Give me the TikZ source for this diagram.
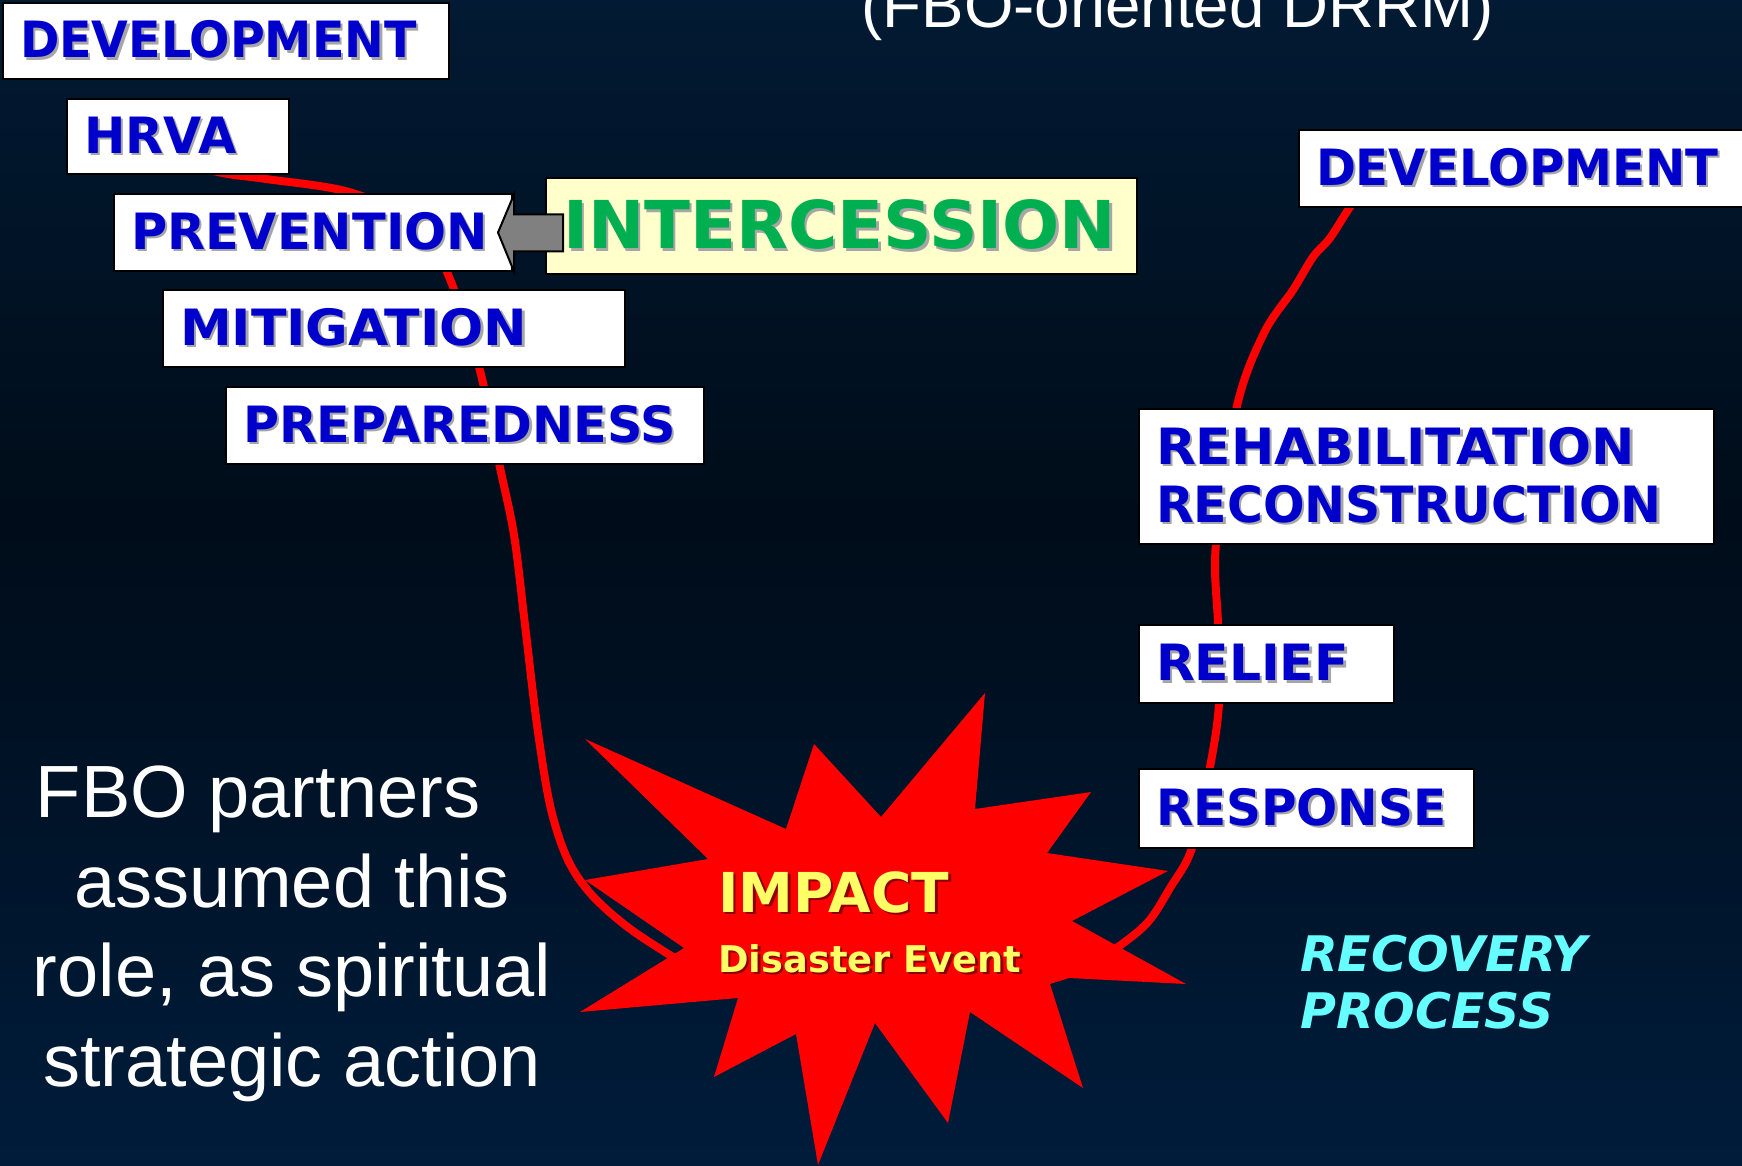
\documentclass[tikz,border=0pt]{standalone}
\usepackage{fontspec}
\setmainfont{Liberation Sans}
\newfontfamily\stagefont[FakeStretch=0.95]{DejaVu Sans}
\newfontfamily\calloutfont{DejaVu Sans}
\usepackage{xcolor}
\usepackage{graphicx}
\usepackage{tikz}
\usetikzlibrary{positioning}
\definecolor{SkyTop}{HTML}{021A33}
\definecolor{SkyMid}{HTML}{000C19}
\definecolor{SkyBottom}{HTML}{001C3B}
\definecolor{StageBlue}{HTML}{0000CC}
\definecolor{StageShadow}{HTML}{A6A6A6}
\definecolor{PrayerGreen}{HTML}{00B050}
\definecolor{PrayerFill}{HTML}{FFFFCC}
\definecolor{ArrowGray}{HTML}{808080}
\definecolor{BurstRed}{HTML}{FF0000}
\definecolor{BurstYellow}{HTML}{FFFF66}
\definecolor{BurstShadow}{HTML}{8C0000}
\definecolor{RecoveryCyan}{HTML}{66FFFF}
% text with a soft drop shadow, optionally widened
\newcommand{\Shadowed}[3][1]{%
  \leavevmode\scalebox{#1}[1]{\rlap{\kern2.5pt\raisebox{-2.5pt}{\textcolor{#2}{#3}}}#3}%
}

\begin{document}
\begin{tikzpicture}[
  x=1pt,y=-1pt,
  stagebox/.style={draw=black,line width=2pt,fill=white,anchor=north west,
                   inner xsep=17pt,inner ysep=0pt,minimum height=77pt,align=left,
                   text=StageBlue,font=\stagefont\bfseries\fontsize{50}{58}\selectfont},
  riskcurve/.style={draw=BurstRed,line width=8pt,line cap=round},
  blockarrow/.style={draw=black,line width=2pt,fill=ArrowGray,line join=miter},
]
  \useasboundingbox (0,0) rectangle (1742,1166);
  \shade[top color=SkyTop,bottom color=SkyMid] (0,0) rectangle (1742,520);
  \shade[top color=SkyMid,bottom color=SkyBottom] (0,519) rectangle (1742,1166);

  \node[anchor=base,text=white,font=\fontsize{63.6}{70}\selectfont] (title)
    at (1178,28) {(FBO-oriented DRRM)};

  % the cycle line runs behind the boxes and the burst
  \draw[riskcurve] plot[smooth,tension=0.55] coordinates {
    (190,166) (228,174) (266,179) (349,192) (415,222) (447,272) (479,367) (499,463)
    (514,535) (525,625) (537,725) (550,805) (567,858) (590,893) (625,925)
    (665,952) (720,985)};
  \draw[riskcurve] plot[smooth,tension=0.55] coordinates {
    (1080,972) (1118,947) (1148,922) (1170,888) (1192,848) (1210,767)
    (1219,703) (1218,625) (1216,543) (1237,406) (1264,333) (1293,290)
    (1313,257) (1330,238) (1350,207) (1370,180)};

  \node[stagebox,text width=412pt,minimum height=76pt] (devbefore) at (2,2)
    {\Shadowed{StageShadow}{DEVELOPMENT}};
  \node[stagebox,text width=188pt,minimum height=75pt] (hrva) at (66,98)
    {\Shadowed[1.04]{StageShadow}{HRVA}};
  \node[stagebox,text width=364pt] (prevention) at (113,193)
    {\Shadowed[1.04]{StageShadow}{PREVENTION}};
  \node[stagebox,text width=428pt] (mitigation) at (162,289)
    {\Shadowed[1.095]{StageShadow}{MITIGATION}};
  \node[stagebox,text width=444pt] (preparedness) at (225,386)
    {\Shadowed[1.035]{StageShadow}{PREPAREDNESS}};

  \node[stagebox,text width=436pt] (devafter) at (1298,129)
    {\Shadowed[1.014]{StageShadow}{DEVELOPMENT}};
  \node[stagebox,text width=541pt,minimum height=135pt] (rehab) at (1138,408)
    {\Shadowed[1.09]{StageShadow}{REHABILITATION}\\
     \Shadowed[1.03]{StageShadow}{RECONSTRUCTION}};
  \node[stagebox,text width=221pt,minimum height=78pt] (relief) at (1138,624)
    {\Shadowed[1.06]{StageShadow}{RELIEF}};
  \node[stagebox,text width=301pt,minimum height=79pt] (response) at (1138,768)
    {\Shadowed[1.02]{StageShadow}{RESPONSE}};

  \node[stagebox,fill=PrayerFill,text=PrayerGreen,text width=557pt,minimum height=96pt,
        font=\calloutfont\bfseries\fontsize{66}{72}\selectfont] (intercession) at (545,177)
    {\Shadowed[1.02]{StageShadow}{INTERCESSION}};

  \draw[blockarrow] ([xshift=-15pt]prevention.east) -- ++(16,-38) -- ++(0,20)
    -- ++(49,0) -- ++(0,37) -- ++(-49,0) -- ++(0,20) -- cycle;

  \fill[BurstRed] (585,739) -- (786,829) -- (814,744) -- (881,817) -- (985,693)
    -- (975,809) -- (1091,792) -- (1047,853) -- (1168,871) -- (1072,921)
    -- (1186,984) -- (1069,978) -- (1050,984) -- (1083,1088) -- (970,1012)
    -- (948,1123) -- (875,1023) -- (818,1165) -- (796,1034) -- (714,1077)
    -- (738,998) -- (580,1012) -- (684,948) -- (585,880) -- (708,859) -- cycle;
  \node[anchor=base west,inner sep=0pt,text=BurstYellow,
        font=\calloutfont\bfseries\fontsize{55}{60}\selectfont] (impact) at (718,912)
    {\Shadowed{BurstShadow}{IMPACT}};
  \node[anchor=base west,inner sep=0pt,text=BurstYellow,
        font=\calloutfont\bfseries\fontsize{36.8}{44}\selectfont] (disaster)
    at ([yshift=-60pt]impact.base west) {\Shadowed{BurstShadow}{Disaster Event}};

  \node[anchor=north west,inner sep=0pt,align=left,text=RecoveryCyan,
        font=\calloutfont\bfseries\itshape\fontsize{49}{57}\selectfont] (recovery)
    at (1300,935) {RECOVERY\\PROCESS};

  \node[anchor=north,inner sep=0pt,align=center,text=white,
        font=\fontsize{74}{89.5}\selectfont] (fbonote) at (292,766)
    {FBO partners\hspace*{68pt}\\assumed this\\role, as spiritual\\strategic action};
\end{tikzpicture}
\end{document}
